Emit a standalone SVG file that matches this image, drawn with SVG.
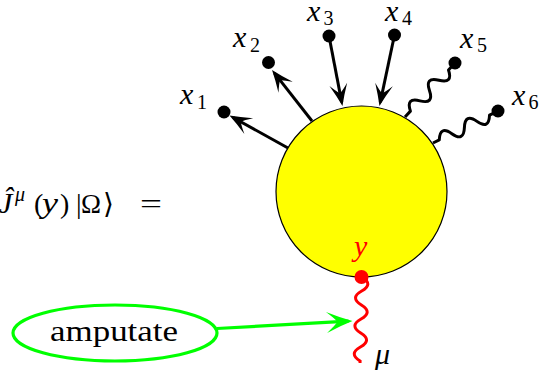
<svg xmlns="http://www.w3.org/2000/svg" width="556" height="376" viewBox="0 0 556 376">
<style>
text{font-family:"Liberation Serif","DejaVu Serif",serif;font-size:28px;fill:#000}
.it{font-style:italic}
.xl{font-style:italic;font-size:30px}
.sub{font-size:20px}
.ln{fill:none;stroke:#000;stroke-width:3}
.wv{fill:none;stroke:#000;stroke-width:3;stroke-linejoin:round}
.dot{fill:#000}
</style>
<defs>
<marker id="toB" markerUnits="userSpaceOnUse" viewBox="-26 -12 30 24" markerWidth="30" markerHeight="24" refX="-4" refY="0" orient="auto" overflow="visible">
<path d="M0,0 Q-10,-3.5 -22,-9 Q-15,-3 -13,0 Q-15,3 -22,9 Q-10,3.5 0,0Z" fill="#000"/>
</marker>
<marker id="toG" markerUnits="userSpaceOnUse" viewBox="-30 -14 34 28" markerWidth="34" markerHeight="28" refX="-4" refY="0" orient="auto" overflow="visible">
<path d="M0,0 Q-12,-4 -26,-10.5 Q-17,-3 -15,0 Q-17,3 -26,10.5 Q-12,4 0,0Z" fill="#00ff00"/>
</marker>
</defs>

<g id="blob">
<circle cx="361.5" cy="191.5" r="85.5" fill="#ffff00" stroke="#000" stroke-width="1.2"/>
</g>

<g id="connectors">
<line class="ln" x1="288" y1="148" x2="233" y2="117.5" marker-end="url(#toB)"/>
<line class="ln" x1="312" y1="121" x2="274.5" y2="73.1" marker-end="url(#toB)"/>
<line class="ln" x1="329" y1="36" x2="341.7" y2="102.1" marker-end="url(#toB)"/>
<line class="ln" x1="394.5" y1="35" x2="380.3" y2="102.1" marker-end="url(#toB)"/>
<path class="wv" transform="translate(405,117) rotate(-47.2)" d="M0,0 h8 q7,-13 14,0 t14,0 t14,0 t14,0 h9.6"/>
<path class="wv" transform="translate(433,143) rotate(-26.2)" d="M0,0 h7 q7,-13 14,0 t14,0 t14,0 t14,0 h9.4"/>
<path fill="none" stroke="#ff0000" stroke-width="3" transform="translate(362,277) rotate(91.3)" d="M0,0 q7,-12 14,0 t14,0 t14,0 t14,0 t14,0 t14,0 h2"/>
<line x1="217" y1="328.5" x2="348.5" y2="321.2" stroke="#00ff00" stroke-width="3.2" marker-end="url(#toG)"/>
</g>

<g id="x1"><circle class="dot" cx="224" cy="112" r="6.5"/>
<text class="xl" x="180" y="104">x</text><text class="sub" x="197" y="109">1</text></g>
<g id="x2"><circle class="dot" cx="268.5" cy="62.5" r="6.5"/>
<text class="xl" x="233" y="47">x</text><text class="sub" x="250" y="52">2</text></g>
<g id="x3"><circle class="dot" cx="329" cy="36" r="6.5"/>
<text class="xl" x="307" y="21">x</text><text class="sub" x="323.5" y="25">3</text></g>
<g id="x4"><circle class="dot" cx="394.5" cy="35" r="6.5"/>
<text class="xl" x="385" y="21">x</text><text class="sub" x="402" y="25">4</text></g>
<g id="x5"><circle class="dot" cx="455" cy="63" r="6.5"/>
<text class="xl" x="460" y="48">x</text><text class="sub" x="477" y="52">5</text></g>
<g id="x6"><circle class="dot" cx="498" cy="111" r="6.5"/>
<text class="xl" x="512" y="105">x</text><text class="sub" x="528.5" y="109">6</text></g>

<g id="y">
<circle cx="361.5" cy="277" r="7" fill="#ff0000"/>
<text class="xl" x="354" y="256" style="fill:#ff0000">y</text>
</g>

<g id="mu"><text class="xl" x="375" y="364">μ</text></g>

<g id="formula">
<text class="xl" x="-1" y="213">Ĵ</text>
<text class="it sub" x="15" y="201">μ</text>
<text x="34" y="213">(</text>
<text class="xl" x="42" y="213" textLength="16" lengthAdjust="spacingAndGlyphs">y</text>
<text x="60" y="213">)</text>
<text x="76" y="213">|</text>
<text x="81" y="213" textLength="20" lengthAdjust="spacingAndGlyphs">Ω</text>
<text x="103" y="213">⟩</text>
<text x="140" y="213" textLength="22" lengthAdjust="spacingAndGlyphs">=</text>
</g>

<g id="amputate">
<ellipse cx="115" cy="333" rx="102" ry="28" fill="none" stroke="#00ff00" stroke-width="3.2"/>
<text x="114" y="341" text-anchor="middle" style="font-size:30px" textLength="128" lengthAdjust="spacingAndGlyphs">amputate</text>
</g>
</svg>
